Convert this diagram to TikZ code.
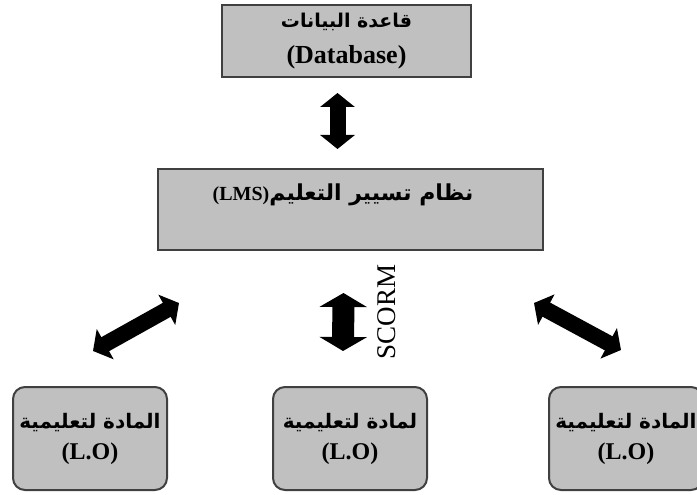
\documentclass[tikz,border=0pt]{standalone}
\usepackage{fontspec}
\setmainfont{Liberation Serif}
\newfontfamily\arabicfont[Script=Arabic]{DejaVu Sans}
\TeXXeTstate=1
\usetikzlibrary{arrows.meta}

\newcommand{\arsize}[1]{\arabicfont\bfseries\fontsize{#1}{#1}\selectfont}
\newcommand{\lasize}[1]{\rmfamily\bfseries\fontsize{#1}{#1}\selectfont}

\tikzset{
	graybox/.style={draw={rgb,255:red,64;green,64;blue,64}, fill={rgb,255:red,192;green,192;blue,192}, line width=2pt, align=center, inner sep=0pt},
	lobox/.style={graybox, rounded corners=12pt, minimum width=154pt, minimum height=103pt},
	bigarrow/.style={line width=16pt, {Triangle[width=34pt,length=14pt]}-{Triangle[width=34pt,length=14pt]}},
}

\begin{document}
\begin{tikzpicture}[x=1pt, y=-1pt]
		\useasboundingbox (0,0) rectangle (697,495);
		\clip (0,0) rectangle (697,495);

		\node[graybox, minimum width=249pt, minimum height=72pt] (db) at (346.5,41)
			{{\arsize{19}\beginR قاعدة البيانات\endR}\\[14pt]{\lasize{26}(Database)}};
		\node[graybox, minimum width=385pt, minimum height=81pt] (lms) at (350.5,209.5) {};
		\node (lmstext) at (343,195)
			{\arsize{22}\beginR نظام تسيير التعليم\beginL{\lasize{20}(LMS)}\endL\endR};

		\node[lobox] (lo1) at (90,438.5) {{\arsize{20}\beginR المادة لتعليمية\endR}\\[10pt]{\lasize{24}(L.O)}};
		\node[lobox] (lo2) at (350,438.5) {{\arsize{20}\beginR لمادة لتعليمية\endR}\\[10pt]{\lasize{24}(L.O)}};
		\node[lobox] (lo3) at (626,438.5) {{\arsize{20}\beginR المادة لتعليمية\endR}\\[10pt]{\lasize{24}(L.O)}};

		\node[rotate=90, font=\fontsize{27}{27}\selectfont] (scorm) at (387,312) {SCORM};

		\draw[bigarrow] ([xshift=-9pt,yshift=-15pt]db.south) -- ([xshift=-13pt,yshift=19pt]lms.north);
		\draw[bigarrow, line width=22pt, {Triangle[width=47pt,length=14pt]}-{Triangle[width=47pt,length=14pt]}]
			([xshift=-7pt,yshift=-42pt]lms.south) -- ([xshift=-7pt,yshift=35pt]lo2.north);
		\draw[bigarrow] ([xshift=22pt,yshift=-52pt]lms.south west) -- ([xshift=3pt,yshift=35pt]lo1.north);
		\draw[bigarrow] ([xshift=-10pt,yshift=-52pt]lms.south east) -- ([xshift=-5pt,yshift=36pt]lo3.north);
	\end{tikzpicture}
\end{document}
